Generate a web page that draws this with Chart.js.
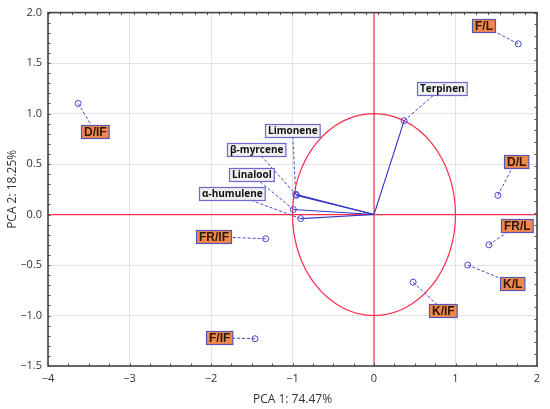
<!DOCTYPE html>
<html>
<head>
<meta charset="utf-8">
<script src="https://cdn.jsdelivr.net/npm/chart.js@4"></script>
<style>
html,body{margin:0;padding:0;background:#fff;}
#wrap{width:550px;height:409px;position:relative;}
</style>
</head>
<body>
<div id="wrap"><canvas id="c"></canvas></div>
<script>
// ---- data ----
const sampleNames = ['D/IF', 'F/L', 'D/L', 'FR/L', 'K/L', 'K/IF', 'FR/IF', 'F/IF'];
const sampleX = [-3.63, 1.77, 1.52, 1.41, 1.15, 0.48, -1.33, -1.46];
const sampleY = [1.10, 1.69, 0.19, -0.30, -0.50, -0.67, -0.24, -1.23];

const varNames = ['Terpinen', 'Limonene', 'β-myrcene', 'Linalool', 'α-humulene'];
const varX = [0.37, -0.96, -0.95, -0.99, -0.90];
const varY = [0.93, 0.20, 0.19, 0.05, -0.04];

const xTicks = [-4, -3, -2, -1, 0, 1, 2];
const yTicks = [-1.5, -1.0, -0.5, 0.0, 0.5, 1.0, 1.5, 2.0];

// label anchor centres (in data units)
const sampleLabelX = [-3.42, 1.34, 1.74, 1.75, 1.70, 0.85, -1.97, -1.90];
const sampleLabelY = [0.82, 1.87, 0.53, -0.11, -0.68, -0.95, -0.22, -1.22];
const varLabelX = [0.83, -1.00, -1.45, -1.51, -1.74];
const varLabelY = [1.25, 0.83, 0.64, 0.40, 0.21];

const xTitle = 'PCA 1: 74.47%';
const yTitle = 'PCA 2: 18.25%';

// ---- styles ----
const BLUE = '#4444d4';
const RED = '#ff2d4d';
const fmt = (v, d) => { const s = Math.abs(v).toFixed(d); return v < 0 ? '\u2212' + s : s; };

const datasets = [];
datasets.push({
  type: 'scatter',
  label: 'samples',
  data: sampleX.map((x, i) => ({x: x, y: sampleY[i]})),
  pointRadius: 3,
  pointBorderWidth: 1,
  pointBorderColor: BLUE,
  pointBackgroundColor: 'rgba(0,0,0,0)',
  order: 1
});
varNames.forEach((n, i) => {
  datasets.push({
    type: 'line',
    label: n,
    data: [{x: 0, y: 0}, {x: varX[i], y: varY[i]}],
    borderColor: '#3636c6',
    borderWidth: 1.1,
    pointRadius: [0, 3],
    pointBorderWidth: 1,
    pointBorderColor: BLUE,
    pointBackgroundColor: 'rgba(0,0,0,0)',
    fill: false,
    tension: 0,
    order: 2
  });
});

function drawLabel(ctx, text, cx, cy, px, py, kind) {
  ctx.save();
  if (kind === 'sample') {
    ctx.font = 'bold 12px "Liberation Sans", Arial, sans-serif';
  } else {
    ctx.font = 'bold 10px "Open Sans", sans-serif';
  }
  const w = ctx.measureText(text).width + 5;
  const h = 13;
  // leader
  ctx.strokeStyle = BLUE;
  ctx.lineWidth = 1;
  ctx.setLineDash([3, 2]);
  ctx.beginPath();
  ctx.moveTo(px, py);
  ctx.lineTo(cx, cy);
  ctx.stroke();
  ctx.setLineDash([]);
  // box
  const bx = Math.round(cx - w / 2) + 0.5, by = Math.round(cy - h / 2) + 0.5;
  ctx.fillStyle = kind === 'sample' ? '#f4884a' : '#f0f0f0';
  ctx.fillRect(bx, by, w, h);
  ctx.strokeStyle = kind === 'sample' ? '#5656b8' : '#6a6ad0';
  ctx.lineWidth = 1.2;
  ctx.strokeRect(bx, by, w, h);
  ctx.fillStyle = kind === 'sample' ? '#2a1a08' : '#111';
  ctx.textAlign = 'center';
  ctx.textBaseline = 'middle';
  ctx.fillText(text, bx + w / 2, by + h / 2 + 0.5);
  ctx.restore();
}

const pcaPlugin = {
  id: 'pca',
  beforeDatasetsDraw(chart) {
    const {ctx, chartArea: a, scales: {x, y}} = chart;
    ctx.save();
    ctx.beginPath();
    ctx.rect(a.left, a.top, a.right - a.left, a.bottom - a.top);
    ctx.clip();
    const x0 = x.getPixelForValue(0), y0 = y.getPixelForValue(0);
    ctx.strokeStyle = RED;
    ctx.lineWidth = 1.2;
    ctx.beginPath();
    ctx.moveTo(x0, a.top); ctx.lineTo(x0, a.bottom);
    ctx.moveTo(a.left, y0); ctx.lineTo(a.right, y0);
    ctx.stroke();
    const rx = x.getPixelForValue(1) - x0;
    const ry = y0 - y.getPixelForValue(1);
    ctx.beginPath();
    ctx.ellipse(x0, y0, rx, ry, 0, 0, Math.PI * 2);
    ctx.stroke();
    ctx.restore();

    // frame and minor ticks
    ctx.save();
    ctx.strokeStyle = '#4a4a4a';
    ctx.lineWidth = 1;
    const tl = 2.5;
    ctx.beginPath();
    for (let v = x.min; v <= x.max + 1e-9; v += 0.25) {
      const p = Math.round(x.getPixelForValue(v)) + 0.5;
      ctx.moveTo(p, a.bottom); ctx.lineTo(p, a.bottom - tl);
    }
    for (let v = x.min; v <= x.max + 1e-9; v += 0.15) {
      const p = Math.round(x.getPixelForValue(v)) + 0.5;
      ctx.moveTo(p, a.top); ctx.lineTo(p, a.top + tl);
    }
    for (let v = y.min; v <= y.max + 1e-9; v += 0.1) {
      const p = Math.round(y.getPixelForValue(v)) + 0.5;
      ctx.moveTo(a.left, p); ctx.lineTo(a.left + tl, p);
    }
    for (let v = y.min; v <= y.max + 1e-9; v += 3.5 / 30) {
      const p = Math.round(y.getPixelForValue(v)) + 0.5;
      ctx.moveTo(a.right, p); ctx.lineTo(a.right - tl, p);
    }
    ctx.stroke();
    ctx.lineWidth = 1.6;
    ctx.strokeStyle = '#444';
    ctx.strokeRect(a.left, a.top, a.right - a.left, a.bottom - a.top);
    ctx.restore();
  },
  afterDatasetsDraw(chart) {
    const {ctx, scales: {x, y}} = chart;
    sampleNames.forEach((n, i) => {
      drawLabel(ctx, n,
        x.getPixelForValue(sampleLabelX[i]), y.getPixelForValue(sampleLabelY[i]),
        x.getPixelForValue(sampleX[i]), y.getPixelForValue(sampleY[i]), 'sample');
    });
    varNames.forEach((n, i) => {
      drawLabel(ctx, n,
        x.getPixelForValue(varLabelX[i]), y.getPixelForValue(varLabelY[i]),
        x.getPixelForValue(varX[i]), y.getPixelForValue(varY[i]), 'var');
    });
  }
};

const tickFont = {family: '"Open Sans", sans-serif', size: 11};
const titleFont = {family: '"Open Sans", sans-serif', size: 12};

new Chart(document.getElementById('c'), {
  type: 'scatter',
  data: {datasets: datasets},
  plugins: [pcaPlugin],
  options: {
    responsive: true,
    maintainAspectRatio: false,
    animation: false,
    layout: {padding: {top: 12, right: 13, left: 0, bottom: 0}},
    plugins: {legend: {display: false}, tooltip: {enabled: false}},
    scales: {
      x: {
        type: 'linear',
        min: -4, max: 2,
        afterBuildTicks: s => { s.ticks = xTicks.map(v => ({value: v})); },
        afterFit: s => { s.height = 43; },
        ticks: {callback: v => fmt(v, 0), color: '#333', font: tickFont, padding: 6, maxRotation: 0, autoSkip: false},
        grid: {color: '#e3e3e3', drawTicks: false},
        border: {display: false},
        title: {display: true, text: xTitle, color: '#333', font: titleFont, padding: {top: 0, bottom: 2}}
      },
      y: {
        type: 'linear',
        min: -1.5, max: 2.0,
        afterBuildTicks: s => { s.ticks = yTicks.map(v => ({value: v})); },
        afterFit: s => { s.width = 48; },
        ticks: {callback: v => fmt(v, 1), color: '#333', font: tickFont, padding: 6, autoSkip: false},
        grid: {color: '#e3e3e3', drawTicks: false},
        border: {display: false},
        title: {display: true, text: yTitle, color: '#333', font: titleFont, padding: {top: 5, bottom: 0}}
      }
    }
  }
});
</script>
</body>
</html>
